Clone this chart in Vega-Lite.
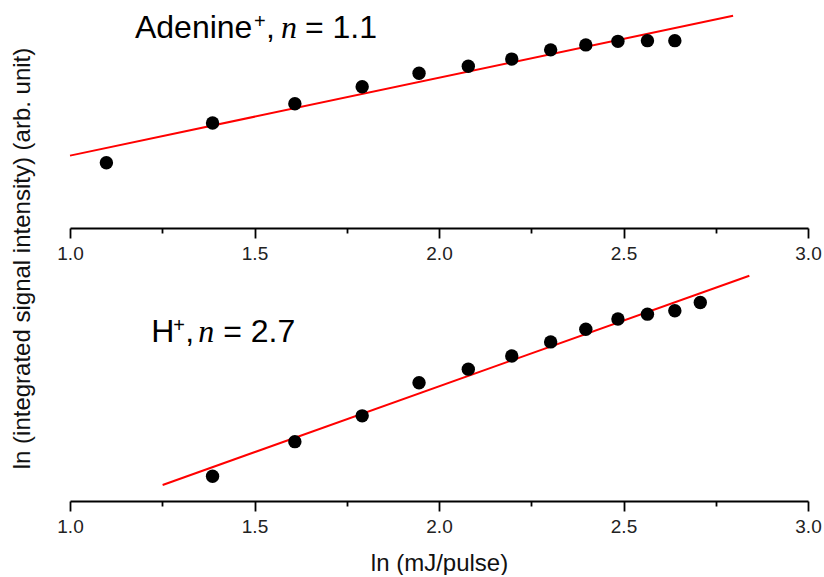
{
  "$schema": "https://vega.github.io/schema/vega-lite/v6.json",
  "background": "white",
  "padding": {"left": 9, "top": 8, "right": 4, "bottom": 0},
  "bounds": "flush",
  "spacing": 37,
  "config": {
    "view": {"stroke": null},
    "font": "Liberation Sans",
    "axis": {
      "grid": false,
      "domainColor": "#000",
      "domainWidth": 2,
      "tickColor": "#000",
      "tickWidth": 1.8,
      "labelFont": "Liberation Sans",
      "labelFontSize": 19,
      "labelColor": "#222",
      "labelFlush": false,
      "labelOverlap": false,
      "titleFont": "Liberation Sans",
      "titleFontSize": 24,
      "titleFontWeight": "normal",
      "titleColor": "#111"
    }
  },
  "datasets": {
    "adenine": [
      {"lnE": 1.0986, "lnI": 4.92},
      {"lnE": 1.3863, "lnI": 5.48},
      {"lnE": 1.6094, "lnI": 5.75},
      {"lnE": 1.7918, "lnI": 5.99},
      {"lnE": 1.9459, "lnI": 6.18},
      {"lnE": 2.0794, "lnI": 6.28},
      {"lnE": 2.1972, "lnI": 6.38},
      {"lnE": 2.3026, "lnI": 6.51},
      {"lnE": 2.3979, "lnI": 6.58},
      {"lnE": 2.4849, "lnI": 6.63},
      {"lnE": 2.5649, "lnI": 6.64},
      {"lnE": 2.6391, "lnI": 6.64}
    ],
    "adenineFit": [
      {"lnE": 1.0, "lnI": 5.02},
      {"lnE": 2.797, "lnI": 6.99}
    ],
    "hplus": [
      {"lnE": 1.3863, "lnI": 2.51},
      {"lnE": 1.6094, "lnI": 3.22},
      {"lnE": 1.7918, "lnI": 3.75},
      {"lnE": 1.9459, "lnI": 4.43},
      {"lnE": 2.0794, "lnI": 4.71},
      {"lnE": 2.1972, "lnI": 4.98},
      {"lnE": 2.3026, "lnI": 5.27},
      {"lnE": 2.3979, "lnI": 5.53},
      {"lnE": 2.4849, "lnI": 5.74},
      {"lnE": 2.5649, "lnI": 5.84},
      {"lnE": 2.6391, "lnI": 5.91},
      {"lnE": 2.7081, "lnI": 6.08}
    ],
    "hplusFit": [
      {"lnE": 1.251, "lnI": 2.33},
      {"lnE": 2.841, "lnI": 6.63}
    ],
    "adenineLabel": [{"lnE": 1.176, "lnI": 6.677, "ion": "Adenine", "eq": "= 1.1"}],
    "hplusLabel": [{"lnE": 1.22, "lnI": 5.274, "ion": "H", "eq": "= 2.7"}]
  },
  "vconcat": [
    {
      "width": 738,
      "height": 220,
      "layer": [
        {
          "data": {"name": "adenineFit"},
          "mark": {"type": "line", "color": "#ff0000", "strokeWidth": 2},
          "encoding": {
            "x": {"field": "lnE", "type": "quantitative", "scale": {"domain": [1, 3], "nice": false},
              "axis": {
                "title": null,
                "values": [1, 1.25, 1.5, 1.75, 2, 2.25, 2.5, 2.75, 3],
                "labelExpr": "abs(datum.value*2-round(datum.value*2))<0.01 ? format(datum.value,'.1f') : ''",
                "tickSize": {"condition": {"test": "abs(datum.value*2-round(datum.value*2))<0.01", "value": 10}, "value": 5},
                "labelPadding": 6
              }},
            "y": {"field": "lnI", "type": "quantitative", "scale": {"domain": [4, 7.1], "nice": false, "zero": false}, "axis": null}
          }
        },
        {
          "data": {"name": "adenine"},
          "mark": {"type": "circle", "size": 180, "color": "#000", "opacity": 1},
          "encoding": {
            "x": {"field": "lnE", "type": "quantitative"},
            "y": {"field": "lnI", "type": "quantitative"}
          }
        },
        {
          "data": {"name": "adenineLabel"},
          "mark": {"type": "text", "align": "left", "baseline": "alphabetic", "fontSize": 32, "font": "Liberation Sans", "color": "#000"},
          "encoding": {"x": {"field": "lnE", "type": "quantitative"}, "y": {"field": "lnI", "type": "quantitative"}, "text": {"field": "ion"}}
        },
        {
          "data": {"name": "adenineLabel"},
          "mark": {"type": "text", "align": "left", "baseline": "alphabetic", "fontSize": 20, "font": "Liberation Sans", "color": "#000", "dx": 119, "dy": -10},
          "encoding": {"x": {"field": "lnE", "type": "quantitative"}, "y": {"field": "lnI", "type": "quantitative"}, "text": {"value": "+"}}
        },
        {
          "data": {"name": "adenineLabel"},
          "mark": {"type": "text", "align": "left", "baseline": "alphabetic", "fontSize": 32, "font": "Liberation Sans", "color": "#000", "dx": 131},
          "encoding": {"x": {"field": "lnE", "type": "quantitative"}, "y": {"field": "lnI", "type": "quantitative"}, "text": {"value": ","}}
        },
        {
          "data": {"name": "adenineLabel"},
          "mark": {"type": "text", "align": "left", "baseline": "alphabetic", "fontSize": 32, "font": "Liberation Serif", "fontStyle": "italic", "color": "#000", "dx": 146},
          "encoding": {"x": {"field": "lnE", "type": "quantitative"}, "y": {"field": "lnI", "type": "quantitative"}, "text": {"value": "n"}}
        },
        {
          "data": {"name": "adenineLabel"},
          "mark": {"type": "text", "align": "left", "baseline": "alphabetic", "fontSize": 32, "font": "Liberation Sans", "color": "#000", "dx": 170},
          "encoding": {"x": {"field": "lnE", "type": "quantitative"}, "y": {"field": "lnI", "type": "quantitative"}, "text": {"field": "eq"}}
        }
      ]
    },
    {
      "width": 738,
      "height": 236,
      "layer": [
        {
          "data": {"name": "hplusFit"},
          "mark": {"type": "line", "color": "#ff0000", "strokeWidth": 2},
          "encoding": {
            "x": {"field": "lnE", "type": "quantitative", "scale": {"domain": [1, 3], "nice": false},
              "axis": {
                "title": "ln (mJ/pulse)",
                "values": [1, 1.25, 1.5, 1.75, 2, 2.25, 2.5, 2.75, 3],
                "labelExpr": "abs(datum.value*2-round(datum.value*2))<0.01 ? format(datum.value,'.1f') : ''",
                "tickSize": {"condition": {"test": "abs(datum.value*2-round(datum.value*2))<0.01", "value": 10}, "value": 5},
                "labelPadding": 6,
                "titlePadding": 15
              }},
            "y": {"field": "lnI", "type": "quantitative", "scale": {"domain": [2, 6.85], "nice": false, "zero": false},
              "axis": {
                "title": "ln (integrated signal intensity) (arb. unit)",
                "domain": false, "ticks": false, "labels": false,
                "titleY": -7,
                "titlePadding": 36
              }}
          }
        },
        {
          "data": {"name": "hplus"},
          "mark": {"type": "circle", "size": 180, "color": "#000", "opacity": 1},
          "encoding": {
            "x": {"field": "lnE", "type": "quantitative"},
            "y": {"field": "lnI", "type": "quantitative"}
          }
        },
        {
          "data": {"name": "hplusLabel"},
          "mark": {"type": "text", "align": "left", "baseline": "alphabetic", "fontSize": 32, "font": "Liberation Sans", "color": "#000"},
          "encoding": {"x": {"field": "lnE", "type": "quantitative"}, "y": {"field": "lnI", "type": "quantitative"}, "text": {"field": "ion"}}
        },
        {
          "data": {"name": "hplusLabel"},
          "mark": {"type": "text", "align": "left", "baseline": "alphabetic", "fontSize": 20, "font": "Liberation Sans", "color": "#000", "dx": 22, "dy": -10},
          "encoding": {"x": {"field": "lnE", "type": "quantitative"}, "y": {"field": "lnI", "type": "quantitative"}, "text": {"value": "+"}}
        },
        {
          "data": {"name": "hplusLabel"},
          "mark": {"type": "text", "align": "left", "baseline": "alphabetic", "fontSize": 32, "font": "Liberation Sans", "color": "#000", "dx": 34},
          "encoding": {"x": {"field": "lnE", "type": "quantitative"}, "y": {"field": "lnI", "type": "quantitative"}, "text": {"value": ","}}
        },
        {
          "data": {"name": "hplusLabel"},
          "mark": {"type": "text", "align": "left", "baseline": "alphabetic", "fontSize": 32, "font": "Liberation Serif", "fontStyle": "italic", "color": "#000", "dx": 47},
          "encoding": {"x": {"field": "lnE", "type": "quantitative"}, "y": {"field": "lnI", "type": "quantitative"}, "text": {"value": "n"}}
        },
        {
          "data": {"name": "hplusLabel"},
          "mark": {"type": "text", "align": "left", "baseline": "alphabetic", "fontSize": 32, "font": "Liberation Sans", "color": "#000", "dx": 72},
          "encoding": {"x": {"field": "lnE", "type": "quantitative"}, "y": {"field": "lnI", "type": "quantitative"}, "text": {"field": "eq"}}
        }
      ]
    }
  ]
}
